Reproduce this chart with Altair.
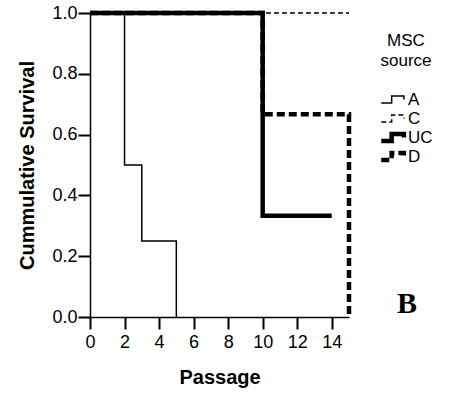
import altair as alt
import pandas as pd

# Kaplan-Meier style step data per MSC source
a_passage = [0, 2, 3, 5]
a_survival = [1.0, 0.5, 0.25, 0.0]
c_passage = [0, 15]
c_survival = [1.0, 1.0]
uc_passage = [0, 10, 14]
uc_survival = [1.0, 0.333, 0.333]
d_passage = [0, 10, 15, 15]
d_survival = [1.0, 0.667, 0.667, 0.0]

sources = ["A", "C", "UC", "D"]
dashes = [[1, 0], [5, 3], [1, 0], [8, 4]]
widths = [1.5, 1.5, 4.5, 4.5]
x_ticks = [0, 2, 4, 6, 8, 10, 12, 14]
y_ticks = [0.0, 0.2, 0.4, 0.6, 0.8, 1.0]
panel_label = ["B"]

rows = []
for name, xs, ys in [("D", d_passage, d_survival), ("C", c_passage, c_survival),
                     ("A", a_passage, a_survival), ("UC", uc_passage, uc_survival)]:
    for i, (x, y) in enumerate(zip(xs, ys)):
        rows.append({"source": name, "passage": x, "survival": y, "order": i})
df = pd.DataFrame(rows)

step_path = "M-1,0.28H-0.15V-0.28H0.85V0"
legend_title = ["MSC", "source"]

lines = alt.Chart(df).mark_line(interpolate="step-after", color="black", clip=False).encode(
    x=alt.X("passage:Q", scale=alt.Scale(domain=[0, 15], nice=False),
            axis=alt.Axis(values=x_ticks, title="Passage", format="d")),
    y=alt.Y("survival:Q", scale=alt.Scale(domain=[0, 1], nice=False),
            axis=alt.Axis(values=y_ticks, title="Cummulative Survival", format=".1f")),
    strokeDash=alt.StrokeDash("source:N", sort=sources,
                              scale=alt.Scale(domain=sources, range=dashes),
                              legend=alt.Legend(title=legend_title)),
    strokeWidth=alt.StrokeWidth("source:N", sort=sources,
                                scale=alt.Scale(type="ordinal", domain=sources, range=widths),
                                legend=alt.Legend(title=legend_title)),
    order="order:Q",
)

label = alt.Chart(pd.DataFrame({"t": panel_label})).mark_text(
    font="Liberation Serif", fontWeight="bold", fontSize=30, color="black",
    align="center", baseline="alphabetic"
).encode(text="t:N", x=alt.value(317), y=alt.value(300))

chart = alt.layer(lines, label).properties(
    width=259, height=304,
    autosize=alt.AutoSizeParams(type="none"),
    padding={"left": 90, "top": 13, "right": 106, "bottom": 86},
).configure_view(stroke=None).configure_axis(
    grid=False, labelFlush=False,
    domainColor="black", domainWidth=1.5,
    tickColor="black", tickWidth=2, tickSize=12,
    labelColor="black", labelFont="Liberation Sans", labelFontSize=18,
    titleColor="black", titleFont="Liberation Sans", titleFontSize=20, titleFontWeight="bold",
).configure_axisY(labelPadding=1, titlePadding=14).configure_axisX(
    labelPadding=4, titlePadding=16
).configure_legend(
    orient="none", legendX=289, legendY=20,
    titleFont="Liberation Sans", titleFontSize=17, titleFontWeight="normal", titleColor="black",
    titleAlign="center", titleAnchor="middle", titleLineHeight=20, titlePadding=20,
    labelFont="Liberation Sans", labelFontSize=17, labelColor="black", labelOffset=0,
    symbolType=step_path, symbolSize=600, symbolStrokeColor="black", symbolFillColor="transparent",
    rowPadding=0, clipHeight=19,
)

chart.save("out.html", embed_options={"renderer": "svg", "actions": False})
